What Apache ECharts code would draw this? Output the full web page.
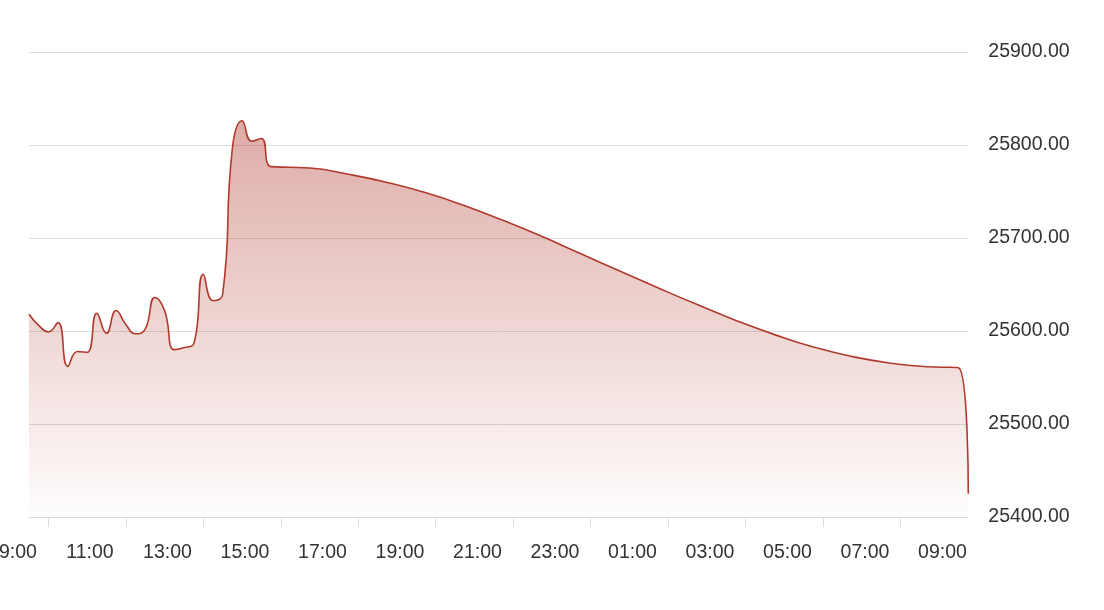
<!DOCTYPE html>
<html><head><meta charset="utf-8">
<script src="https://cdn.jsdelivr.net/npm/echarts@6/dist/echarts.min.js"></script>
<style>html,body{margin:0;padding:0;background:#fff}#c{width:1104px;height:610px}</style>
</head><body><div id="c"></div><script>
// Data (times in HH:MM, running from 09:25 one day to 09:40 the next)
const times = [
  '09:25','09:40','09:55','10:10','10:25','10:40','10:55','11:10','11:25','11:40',
  '11:55','12:10','12:25','12:40','12:55','13:10','13:25','13:40','13:55','14:10',
  '14:25','14:40','14:55','15:10','15:25','15:40','16:10','16:40','17:40','18:40',
  '19:40','20:40','21:40','22:40','23:40','00:40','01:40','02:40','03:40','04:40',
  '05:40','06:40','07:40','08:40','09:25','09:40'
];
const values = [
  25618, 25606, 25599, 25609, 25562, 25578, 25577, 25619, 25597.5, 25622,
  25607, 25597, 25602, 25636, 25622, 25580, 25582, 25586, 25661, 25632.6,
  25639.5, 25796, 25826, 25804, 25807, 25776.7, 25776, 25775.3, 25768.5, 25759.7,
  25748.6, 25734.7, 25718.7, 25701.5, 25683.0, 25664.5, 25646.2, 25628.4, 25611.4, 25596.1,
  25582.8, 25572.5, 25565.4, 25561.5, 25560.5, 25425
];
const tickTimes = ['09:55','11:55','13:55','15:55','17:55','19:55','21:55','23:55','01:55','03:55','05:55','07:55'];
const tickLabels = ['09:00','11:00','13:00','15:00','17:00','19:00','21:00','23:00','01:00','03:00','05:00','07:00','09:00'];
const yMin = 25400, yMax = 25900, yStep = 100;

// convert HH:MM to hours after 09:00 of the first day, keeping order
function toHours(list) {
  let offset = 0, prev = -Infinity;
  return list.map(s => {
    const [H, M] = s.split(':').map(Number);
    let h = H + M / 60 - 9 + offset;
    while (h < prev) { offset += 24; h += 24; }
    prev = h;
    return h;
  });
}
const xs = toHours(times);
const tickXs = toHours(tickTimes);
const seriesData = xs.map((x, i) => [x, values[i]]);

const FONT = 'Liberation Sans';
const chart = echarts.init(document.getElementById('c'), null, {renderer: 'canvas'});
chart.setOption({
  animation: false,
  backgroundColor: '#fff',
  grid: [
    {left: 29, right: 135.7, top: 52, bottom: 93, containLabel: false, outerBoundsMode: 'none'},
    {left: 12.5, right: 161.5, top: 52, bottom: 93, containLabel: false, outerBoundsMode: 'none'}
  ],
  xAxis: [
    {
      type: 'value', gridIndex: 0, min: xs[0], max: xs[xs.length - 1],
      axisLine: {show: true, lineStyle: {color: '#dcdcdc', width: 1}},
      axisTick: {show: true, customValues: tickXs, length: 10, lineStyle: {color: '#dcdcdc'}},
      axisLabel: {show: false},
      splitLine: {show: false}
    },
    {
      type: 'category', gridIndex: 1, data: tickLabels, boundaryGap: false,
      axisLine: {show: false}, axisTick: {show: false}, splitLine: {show: false},
      axisLabel: {interval: 0, margin: 26, fontSize: 19.5, color: '#333', fontFamily: FONT, hideOverlap: false}
    }
  ],
  yAxis: [
    {
      type: 'value', gridIndex: 0, position: 'right', min: yMin, max: yMax, interval: yStep,
      axisLine: {show: false}, axisTick: {show: false},
      axisLabel: {margin: 20, fontSize: 19.5, color: '#333', fontFamily: FONT, formatter: v => v.toFixed(2)},
      splitLine: {lineStyle: {color: '#dcdcdc', width: 1}}
    },
    {type: 'value', gridIndex: 1, show: false, min: 0, max: 1}
  ],
  series: [{
    type: 'line', xAxisIndex: 0, yAxisIndex: 0,
    data: seriesData, smooth: 0.5, symbol: 'none',
    lineStyle: {color: '#b0392d', width: 1.6},
    areaStyle: {
      color: new echarts.graphic.LinearGradient(0, 0, 0, 1, [
        {offset: 0, color: 'rgba(176,57,45,0.6)'},
        {offset: 1, color: 'rgba(176,57,45,0.01)'}
      ])
    }
  }]
});
</script></body></html>
